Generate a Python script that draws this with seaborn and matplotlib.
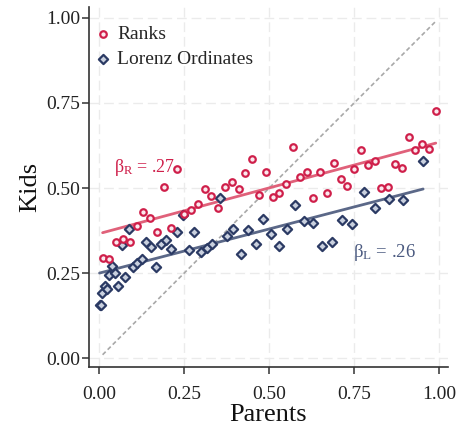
import matplotlib
matplotlib.use("Agg")
import matplotlib.pyplot as plt
import seaborn as sns
import numpy as np
import pandas as pd

# ---- data ----
rank_x = [0.01 + 0.02 * i for i in range(50)]
rank_y = [0.293, 0.290, 0.341, 0.349, 0.342, 0.388, 0.430, 0.413, 0.371, 0.503,
          0.383, 0.555, 0.424, 0.436, 0.453, 0.498, 0.477, 0.442, 0.502, 0.517,
          0.497, 0.543, 0.585, 0.480, 0.548, 0.474, 0.484, 0.512, 0.621, 0.531,
          0.546, 0.470, 0.546, 0.486, 0.575, 0.526, 0.506, 0.556, 0.612, 0.567,
          0.579, 0.499, 0.502, 0.572, 0.560, 0.650, 0.613, 0.628, 0.616, 0.726]

lorenz_x = [0.001, 0.005, 0.009, 0.017, 0.024, 0.029, 0.039, 0.047, 0.056, 0.067,
            0.076, 0.087, 0.100, 0.111, 0.125, 0.138, 0.153, 0.166, 0.181, 0.196,
            0.212, 0.229, 0.246, 0.264, 0.279, 0.299, 0.316, 0.332, 0.354, 0.375,
            0.394, 0.416, 0.438, 0.460, 0.481, 0.504, 0.529, 0.551, 0.576, 0.603,
            0.628, 0.656, 0.684, 0.713, 0.745, 0.779, 0.812, 0.851, 0.894, 0.953]
lorenz_y = [0.155, 0.156, 0.191, 0.211, 0.203, 0.245, 0.271, 0.249, 0.212, 0.332,
            0.238, 0.379, 0.269, 0.281, 0.291, 0.341, 0.328, 0.269, 0.335, 0.347,
            0.321, 0.370, 0.421, 0.318, 0.370, 0.311, 0.325, 0.335, 0.471, 0.360,
            0.381, 0.307, 0.376, 0.335, 0.410, 0.366, 0.330, 0.381, 0.450, 0.404,
            0.396, 0.330, 0.342, 0.407, 0.393, 0.487, 0.442, 0.469, 0.466, 0.578]

diag = [0.01, 0.99]
ticks = [0.0, 0.25, 0.5, 0.75, 1.0]
tick_labels = ["0.00", "0.25", "0.50", "0.75", "1.00"]
series_labels = ["Ranks", "Lorenz Ordinates"]
beta_labels = ["β$_\\mathrm{R}$ = .27", "β$_\\mathrm{L}$ = .26"]

df_r = pd.DataFrame({"Parents": rank_x, "Kids": rank_y})
df_l = pd.DataFrame({"Parents": lorenz_x, "Kids": lorenz_y})

# ---- style ----
sns.set_style("white")
plt.rcParams["font.family"] = ["Liberation Serif", "DejaVu Serif"]
plt.rcParams["mathtext.fontset"] = "custom"
plt.rcParams["mathtext.rm"] = "Liberation Serif"
plt.rcParams["mathtext.it"] = "Liberation Serif:italic"

red = "#cf1f4a"
red_line = "#e0617a"
navy = "#2b3a64"
navy_line = "#5b6888"

fig = plt.figure(figsize=(4.57, 4.25), dpi=100)
ax = fig.add_axes([89 / 457, 58 / 425, 359 / 457, 360 / 425])

# grid
ax.grid(True, color="#ebebeb", linestyle=(0, (7, 3.5)), linewidth=1.0)
ax.set_axisbelow(True)

# 45 degree line
ax.plot(diag, diag, color="#a8a8a8", linestyle=(0, (2.6, 1.7)), linewidth=1.2, zorder=1)

# regression lines
sns.regplot(data=df_r, x="Parents", y="Kids", scatter=False, ci=None, ax=ax,
            line_kws=dict(color=red_line, linewidth=2.0, zorder=2))
sns.regplot(data=df_l, x="Parents", y="Kids", scatter=False, ci=None, ax=ax,
            line_kws=dict(color=navy_line, linewidth=2.0, zorder=2))

# scatter
sns.scatterplot(data=df_r, x="Parents", y="Kids", ax=ax, marker="o", s=22,
                facecolor="#fbe9ee", edgecolor=red, linewidth=1.6,
                label=series_labels[0], zorder=4)
sns.scatterplot(data=df_l, x="Parents", y="Kids", ax=ax, marker="D", s=22,
                facecolor="#c9d0de", edgecolor=navy, linewidth=1.6,
                label=series_labels[1], zorder=3)

# annotations
ax.text(0.043, 0.560, beta_labels[0], color=red, fontsize=13, ha="left", va="center")
ax.text(0.748, 0.310, beta_labels[1], color="#4b5a80", fontsize=13.5, ha="left", va="center")

ax.set_xlim(-0.030, 1.026)
ax.set_ylim(-0.026, 1.032)
ax.set_xticks(ticks)
ax.set_xticklabels(tick_labels)
ax.set_yticks(ticks)
ax.set_yticklabels(tick_labels)
ax.tick_params(axis="both", labelsize=14, length=5, width=1.1, color="#333333",
               labelcolor="#222222", direction="out", bottom=True, left=True)
ax.tick_params(axis="x", pad=9)
ax.tick_params(axis="y", pad=1.5)
ax.set_xlabel("Parents", fontsize=19, color="#111111", labelpad=0.5)
ax.set_ylabel("Kids", fontsize=19, color="#111111", labelpad=3)

for s in ["top", "right"]:
    ax.spines[s].set_visible(False)
for s in ["left", "bottom"]:
    ax.spines[s].set_color("#333333")
    ax.spines[s].set_linewidth(1.2)

leg = ax.legend(loc="upper left", frameon=False, fontsize=14, handletextpad=0.45,
                borderaxespad=0.0, borderpad=0.4, handlelength=0.6, labelspacing=0.35,
                bbox_to_anchor=(0.0, 0.97))

fig.savefig("out.png", dpi=100, facecolor="white")
